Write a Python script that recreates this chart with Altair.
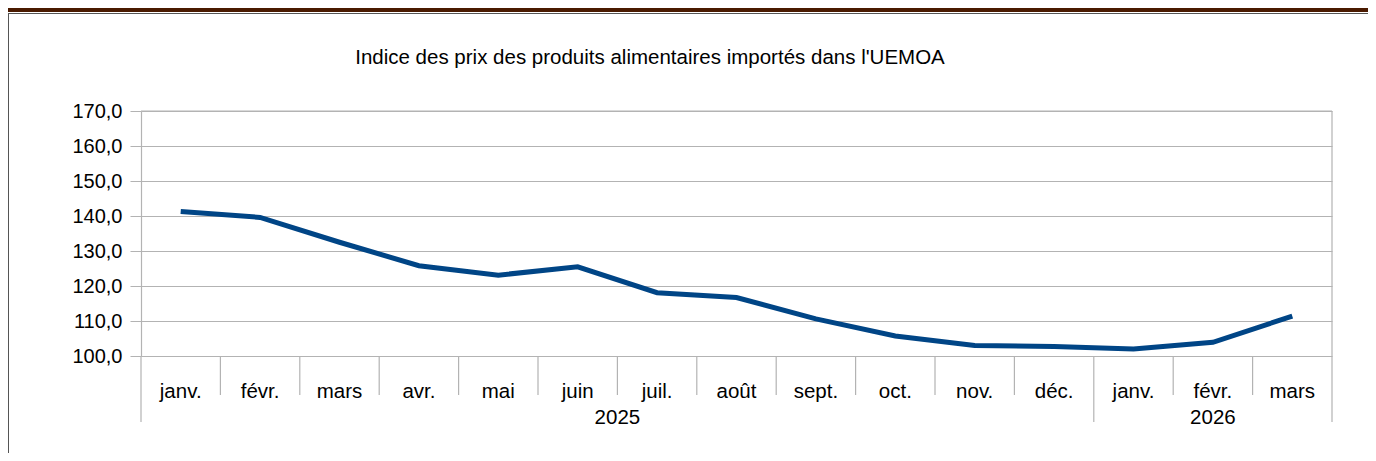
import altair as alt
import pandas as pd

months = ["janv.", "févr.", "mars", "avr.", "mai", "juin", "juil.", "août",
          "sept.", "oct.", "nov.", "déc.", "janv.", "févr.", "mars"]
values = [141.3, 139.6, 132.5, 125.8, 123.1, 125.5, 118.1, 116.7,
          110.6, 105.7, 103.0, 102.7, 102.0, 103.9, 111.4]
years = ["2025", "2026"]
year_counts = [12, 3]
y_ticks = [100, 110, 120, 130, 140, 150, 160, 170]
title = "Indice des prix des produits alimentaires importés dans l'UEMOA"

FONT = "Liberation Sans"
W, H = 1191, 245
n = len(months)

df = pd.DataFrame({"idx": [i + 0.5 for i in range(n)], "month": months, "value": values})

year_bounds = [0]
for c in year_counts:
    year_bounds.append(year_bounds[-1] + c)
sep = pd.DataFrame({"pos": list(range(n + 1)),
                    "long": [k in year_bounds for k in range(n + 1)]})
yr = pd.DataFrame({
    "year": years,
    "center": [(year_bounds[i] + year_bounds[i + 1]) / 2 for i in range(len(years))],
})

xs = alt.Scale(domain=[0, n], nice=False, zero=False)
ys = alt.Scale(domain=[100, 170], nice=False, zero=False)

GRID = "#b3b3b3"

y_axis = alt.Axis(values=y_ticks, grid=True, gridColor=GRID, gridWidth=1,
                  domainColor=GRID, domainWidth=1.2, tickColor=GRID, tickSize=11,
                  labelPadding=8, labelFontSize=20, labelFont=FONT,
                  labelColor="#000000", labelOverlap=False, labelFlush=False,
                  labelBound=False,
                  labelExpr="replace(format(datum.value, '.1f'), '.', ',')")


def yenc(field):
    return alt.Y(field, scale=ys, title=None, axis=y_axis)


line = alt.Chart(df).mark_line(color="#004586", strokeWidth=5).encode(
    x=alt.X("idx:Q", scale=xs, axis=None),
    y=yenc("value:Q"),
)

top_rule = alt.Chart(pd.DataFrame({"v": [y_ticks[-1]]})).mark_rule(
    color=GRID, strokeWidth=1).encode(
    y=yenc("v:Q"), x=alt.value(0), x2=alt.value(W))

short_sep = alt.Chart(sep).transform_filter("!datum.long").mark_rule(
    color=GRID, strokeWidth=1.2).encode(
    x=alt.X("pos:Q", scale=xs, axis=None), y=alt.value(H), y2=alt.value(H + 39))

long_sep = alt.Chart(sep).transform_filter("datum.long").mark_rule(
    color=GRID, strokeWidth=1.2).encode(
    x=alt.X("pos:Q", scale=xs, axis=None), y=alt.value(H), y2=alt.value(H + 66))

right_edge = alt.Chart(pd.DataFrame({"pos": [n]})).mark_rule(
    color=GRID, strokeWidth=1.2).encode(
    x=alt.X("pos:Q", scale=xs, axis=None), y=alt.value(0), y2=alt.value(H))

month_text = alt.Chart(df).mark_text(font=FONT, fontSize=20.5, color="#000000",
                                     baseline="alphabetic").encode(
    x=alt.X("idx:Q", scale=xs, axis=None), y=alt.value(H + 42), text="month:N")

year_text = alt.Chart(yr).mark_text(font=FONT, fontSize=20.5, color="#000000",
                                    baseline="alphabetic").encode(
    x=alt.X("center:Q", scale=xs, axis=None), y=alt.value(H + 68), text="year:N")

title_text = alt.Chart(pd.DataFrame({"t": [title]})).mark_text(
    font=FONT, fontSize=20.5, color="#000000", baseline="alphabetic", align="center").encode(
    x=alt.value(650 - 141), y=alt.value(64 - 111), text="t:N")

frame_top = alt.Chart(pd.DataFrame({"a": [0]})).mark_rule(color="#555555", strokeWidth=1).encode(
    x=alt.value(-133), x2=alt.value(W + 36), y=alt.value(-97.5))
frame_left = alt.Chart(pd.DataFrame({"a": [0]})).mark_rule(color="#555555", strokeWidth=1).encode(
    x=alt.value(-132.5), y=alt.value(-98), y2=alt.value(H + 97))
band = alt.Chart(pd.DataFrame({"a": [0]})).mark_rect(color="#4a1a00").encode(
    x=alt.value(-133), x2=alt.value(W + 36), y=alt.value(-103), y2=alt.value(-99))

chart = alt.layer(top_rule, short_sep, long_sep, right_edge, line,
                  month_text, year_text, title_text, frame_top, frame_left, band).properties(
    width=W, height=H,
    autosize=alt.AutoSizeParams(type="none"),
    padding={"left": 133, "top": 103, "right": 36, "bottom": 97},
    background="#ffffff",
).configure_view(stroke=None)

chart.save("out.html", embed_options={"renderer": "svg", "actions": False})
